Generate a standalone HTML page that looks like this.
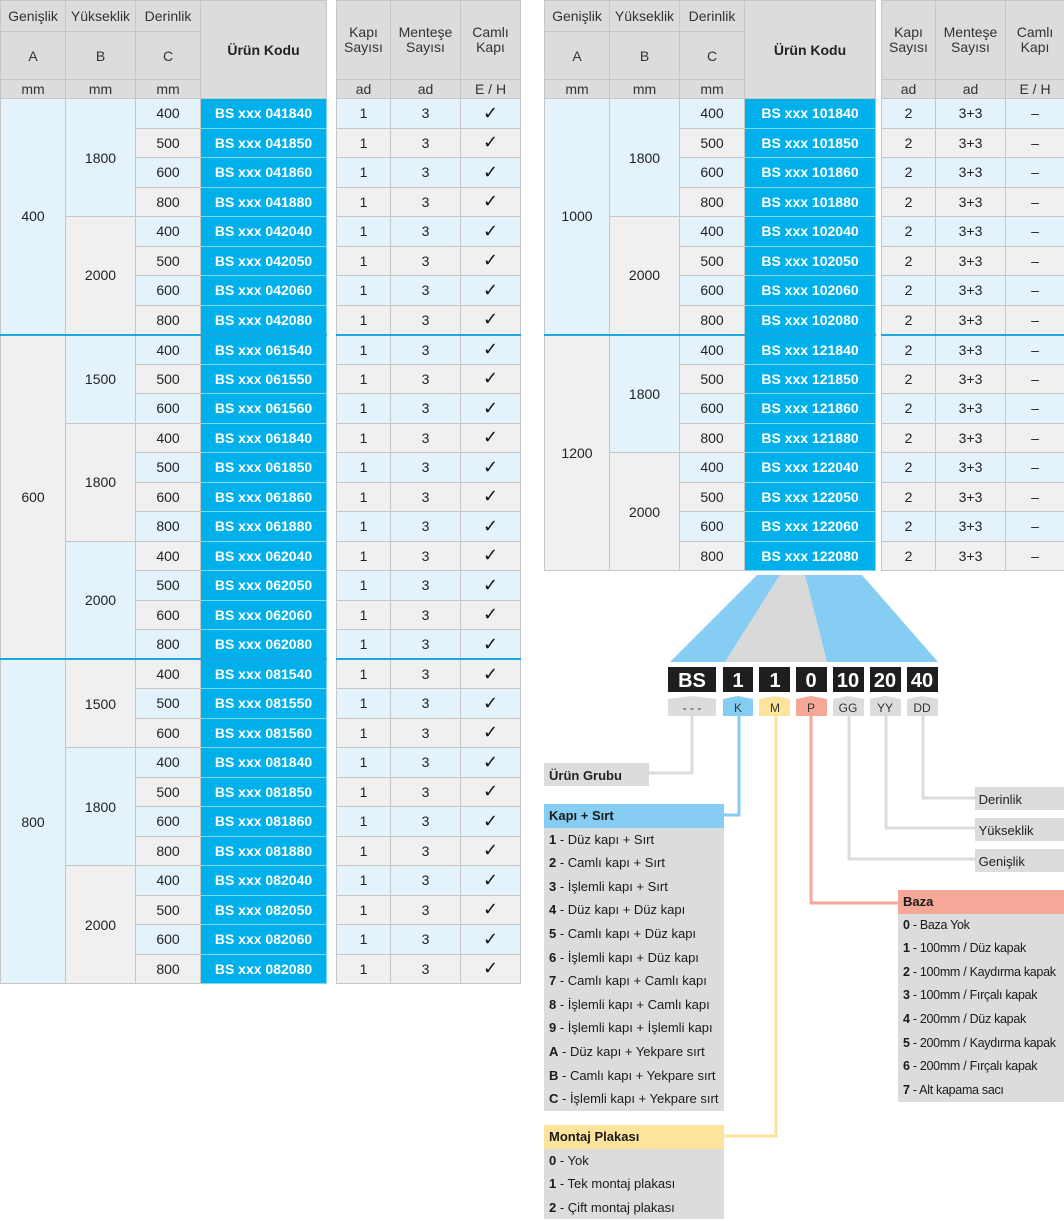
<!DOCTYPE html>
<html><head><meta charset="utf-8">
<style>
body{margin:0;width:1064px;height:1221px;background:#fff;position:relative;overflow:hidden;font-family:"Liberation Sans","DejaVu Sans",sans-serif;}
table{border-collapse:collapse;position:absolute;top:0;table-layout:fixed;}
td{border:1px solid #c6c6c6;padding:0;text-align:center;font-size:14px;color:#222;overflow:hidden;white-space:nowrap;}
tr.d{height:29.5px;}
td.g{border:none;background:#fff;}
td.h{background:#dcdcdc;color:#333;}
td.hb{background:#dcdcdc;color:#222;font-weight:bold;}
td.k{background:#00b0eb;color:#fff;font-weight:bold;border-color:#7fd5f4;}
td.c{font-size:18px;color:#111;}
.b{background:#e4f2fc;}
.y{background:#f0f0f0;}
tr.sep td{border-top:2px solid #1aa6e0;}
tr.sep td.g{border-top:none;}
td.hh{line-height:15px;}
#L{left:0;width:520px;}
#R{left:544px;width:520px;}
.lg{position:absolute;font-size:13px;color:#1a1a1a;}
.lg div{height:23.6px;line-height:23.6px;padding-left:5px;white-space:nowrap;}
.lg b{font-weight:bold;}
</style></head><body>

<table id="L">
<colgroup><col style="width:65px"><col style="width:70px"><col style="width:65px"><col style="width:126px"><col style="width:10px"><col style="width:54px"><col style="width:70px"><col style="width:60px"></colgroup>
<tr style="height:31px"><td class="h">Genişlik</td><td class="h">Yükseklik</td><td class="h">Derinlik</td><td class="hb" rowspan="3">Ürün Kodu</td><td class="g" rowspan="3"></td><td class="h hh" rowspan="2">Kapı<br>Sayısı</td><td class="h hh" rowspan="2">Menteşe<br>Sayısı</td><td class="h hh" rowspan="2">Camlı<br>Kapı</td></tr>
<tr style="height:48px"><td class="h">A</td><td class="h">B</td><td class="h">C</td></tr>
<tr style="height:19px;font-size:13px"><td class="h">mm</td><td class="h">mm</td><td class="h">mm</td><td class="h">ad</td><td class="h">ad</td><td class="h">E / H</td></tr>

<tr class="d b"><td class="b" rowspan="8">400</td><td class="b" rowspan="4">1800</td><td>400</td><td class="k">BS xxx 041840</td><td class="g"></td><td>1</td><td>3</td><td class="c">✓</td></tr>
<tr class="d y"><td>500</td><td class="k">BS xxx 041850</td><td class="g"></td><td>1</td><td>3</td><td class="c">✓</td></tr>
<tr class="d b"><td>600</td><td class="k">BS xxx 041860</td><td class="g"></td><td>1</td><td>3</td><td class="c">✓</td></tr>
<tr class="d y"><td>800</td><td class="k">BS xxx 041880</td><td class="g"></td><td>1</td><td>3</td><td class="c">✓</td></tr>
<tr class="d b"><td class="y" rowspan="4">2000</td><td>400</td><td class="k">BS xxx 042040</td><td class="g"></td><td>1</td><td>3</td><td class="c">✓</td></tr>
<tr class="d y"><td>500</td><td class="k">BS xxx 042050</td><td class="g"></td><td>1</td><td>3</td><td class="c">✓</td></tr>
<tr class="d b"><td>600</td><td class="k">BS xxx 042060</td><td class="g"></td><td>1</td><td>3</td><td class="c">✓</td></tr>
<tr class="d y"><td>800</td><td class="k">BS xxx 042080</td><td class="g"></td><td>1</td><td>3</td><td class="c">✓</td></tr>

<tr class="d b sep"><td class="y" rowspan="11">600</td><td class="b" rowspan="3">1500</td><td>400</td><td class="k">BS xxx 061540</td><td class="g"></td><td>1</td><td>3</td><td class="c">✓</td></tr>
<tr class="d y"><td>500</td><td class="k">BS xxx 061550</td><td class="g"></td><td>1</td><td>3</td><td class="c">✓</td></tr>
<tr class="d b"><td>600</td><td class="k">BS xxx 061560</td><td class="g"></td><td>1</td><td>3</td><td class="c">✓</td></tr>
<tr class="d y"><td class="y" rowspan="4">1800</td><td>400</td><td class="k">BS xxx 061840</td><td class="g"></td><td>1</td><td>3</td><td class="c">✓</td></tr>
<tr class="d b"><td>500</td><td class="k">BS xxx 061850</td><td class="g"></td><td>1</td><td>3</td><td class="c">✓</td></tr>
<tr class="d y"><td>600</td><td class="k">BS xxx 061860</td><td class="g"></td><td>1</td><td>3</td><td class="c">✓</td></tr>
<tr class="d b"><td>800</td><td class="k">BS xxx 061880</td><td class="g"></td><td>1</td><td>3</td><td class="c">✓</td></tr>
<tr class="d y"><td class="b" rowspan="4">2000</td><td>400</td><td class="k">BS xxx 062040</td><td class="g"></td><td>1</td><td>3</td><td class="c">✓</td></tr>
<tr class="d b"><td>500</td><td class="k">BS xxx 062050</td><td class="g"></td><td>1</td><td>3</td><td class="c">✓</td></tr>
<tr class="d y"><td>600</td><td class="k">BS xxx 062060</td><td class="g"></td><td>1</td><td>3</td><td class="c">✓</td></tr>
<tr class="d b"><td>800</td><td class="k">BS xxx 062080</td><td class="g"></td><td>1</td><td>3</td><td class="c">✓</td></tr>

<tr class="d y sep"><td class="b" rowspan="11">800</td><td class="y" rowspan="3">1500</td><td>400</td><td class="k">BS xxx 081540</td><td class="g"></td><td>1</td><td>3</td><td class="c">✓</td></tr>
<tr class="d b"><td>500</td><td class="k">BS xxx 081550</td><td class="g"></td><td>1</td><td>3</td><td class="c">✓</td></tr>
<tr class="d y"><td>600</td><td class="k">BS xxx 081560</td><td class="g"></td><td>1</td><td>3</td><td class="c">✓</td></tr>
<tr class="d b"><td class="b" rowspan="4">1800</td><td>400</td><td class="k">BS xxx 081840</td><td class="g"></td><td>1</td><td>3</td><td class="c">✓</td></tr>
<tr class="d y"><td>500</td><td class="k">BS xxx 081850</td><td class="g"></td><td>1</td><td>3</td><td class="c">✓</td></tr>
<tr class="d b"><td>600</td><td class="k">BS xxx 081860</td><td class="g"></td><td>1</td><td>3</td><td class="c">✓</td></tr>
<tr class="d y"><td>800</td><td class="k">BS xxx 081880</td><td class="g"></td><td>1</td><td>3</td><td class="c">✓</td></tr>
<tr class="d b"><td class="y" rowspan="4">2000</td><td>400</td><td class="k">BS xxx 082040</td><td class="g"></td><td>1</td><td>3</td><td class="c">✓</td></tr>
<tr class="d y"><td>500</td><td class="k">BS xxx 082050</td><td class="g"></td><td>1</td><td>3</td><td class="c">✓</td></tr>
<tr class="d b"><td>600</td><td class="k">BS xxx 082060</td><td class="g"></td><td>1</td><td>3</td><td class="c">✓</td></tr>
<tr class="d y"><td>800</td><td class="k">BS xxx 082080</td><td class="g"></td><td>1</td><td>3</td><td class="c">✓</td></tr>
</table>

<table id="R">
<colgroup><col style="width:65px"><col style="width:70px"><col style="width:65px"><col style="width:131px"><col style="width:6px"><col style="width:54px"><col style="width:70px"><col style="width:59px"></colgroup>
<tr style="height:31px"><td class="h">Genişlik</td><td class="h">Yükseklik</td><td class="h">Derinlik</td><td class="hb" rowspan="3">Ürün Kodu</td><td class="g" rowspan="3"></td><td class="h hh" rowspan="2">Kapı<br>Sayısı</td><td class="h hh" rowspan="2">Menteşe<br>Sayısı</td><td class="h hh" rowspan="2">Camlı<br>Kapı</td></tr>
<tr style="height:48px"><td class="h">A</td><td class="h">B</td><td class="h">C</td></tr>
<tr style="height:19px;font-size:13px"><td class="h">mm</td><td class="h">mm</td><td class="h">mm</td><td class="h">ad</td><td class="h">ad</td><td class="h">E / H</td></tr>

<tr class="d b"><td class="b" rowspan="8">1000</td><td class="b" rowspan="4">1800</td><td>400</td><td class="k">BS xxx 101840</td><td class="g"></td><td>2</td><td>3+3</td><td>–</td></tr>
<tr class="d y"><td>500</td><td class="k">BS xxx 101850</td><td class="g"></td><td>2</td><td>3+3</td><td>–</td></tr>
<tr class="d b"><td>600</td><td class="k">BS xxx 101860</td><td class="g"></td><td>2</td><td>3+3</td><td>–</td></tr>
<tr class="d y"><td>800</td><td class="k">BS xxx 101880</td><td class="g"></td><td>2</td><td>3+3</td><td>–</td></tr>
<tr class="d b"><td class="y" rowspan="4">2000</td><td>400</td><td class="k">BS xxx 102040</td><td class="g"></td><td>2</td><td>3+3</td><td>–</td></tr>
<tr class="d y"><td>500</td><td class="k">BS xxx 102050</td><td class="g"></td><td>2</td><td>3+3</td><td>–</td></tr>
<tr class="d b"><td>600</td><td class="k">BS xxx 102060</td><td class="g"></td><td>2</td><td>3+3</td><td>–</td></tr>
<tr class="d y"><td>800</td><td class="k">BS xxx 102080</td><td class="g"></td><td>2</td><td>3+3</td><td>–</td></tr>
<tr class="d b sep"><td class="y" rowspan="8">1200</td><td class="b" rowspan="4">1800</td><td>400</td><td class="k">BS xxx 121840</td><td class="g"></td><td>2</td><td>3+3</td><td>–</td></tr>
<tr class="d y"><td>500</td><td class="k">BS xxx 121850</td><td class="g"></td><td>2</td><td>3+3</td><td>–</td></tr>
<tr class="d b"><td>600</td><td class="k">BS xxx 121860</td><td class="g"></td><td>2</td><td>3+3</td><td>–</td></tr>
<tr class="d y"><td>800</td><td class="k">BS xxx 121880</td><td class="g"></td><td>2</td><td>3+3</td><td>–</td></tr>
<tr class="d b"><td class="y" rowspan="4">2000</td><td>400</td><td class="k">BS xxx 122040</td><td class="g"></td><td>2</td><td>3+3</td><td>–</td></tr>
<tr class="d y"><td>500</td><td class="k">BS xxx 122050</td><td class="g"></td><td>2</td><td>3+3</td><td>–</td></tr>
<tr class="d b"><td>600</td><td class="k">BS xxx 122060</td><td class="g"></td><td>2</td><td>3+3</td><td>–</td></tr>
<tr class="d y"><td>800</td><td class="k">BS xxx 122080</td><td class="g"></td><td>2</td><td>3+3</td><td>–</td></tr>
</table>

<svg width="1064" height="1221" style="position:absolute;left:0;top:0" font-family="Liberation Sans, sans-serif">
<polygon points="757,575 780,575 725,662 670,662" fill="#85cdf2"/>
<polygon points="780,575 805,575 827,662 725,662" fill="#d9d9d9"/>
<polygon points="805,575 862,575 938,662 827,662" fill="#85cdf2"/>
<g fill="#1e1e1e">
<rect x="668" y="667" width="48" height="25"/><rect x="723" y="667" width="30" height="25"/><rect x="759" y="667" width="31" height="25"/><rect x="796" y="667" width="31" height="25"/><rect x="833" y="667" width="31" height="25"/><rect x="870" y="667" width="31" height="25"/><rect x="907" y="667" width="31" height="25"/>
</g>
<g fill="#fff" font-size="20" font-weight="bold" text-anchor="middle">
<text x="692" y="687">BS</text><text x="738" y="687">1</text><text x="775" y="687">1</text><text x="811" y="687">0</text><text x="848" y="687">10</text><text x="885" y="687">20</text><text x="922" y="687">40</text>
</g>
<g fill="none" stroke-width="3">
<polyline points="692,716 692,773 648,773" stroke="#dcdcdc"/>
<polyline points="739,716 739,815 724,815" stroke="#85cdf2"/>
<polyline points="776,716 776,1136 724,1136" stroke="#fde49a"/>
<polyline points="811,716 811,903 898,903" stroke="#f5a898"/>
<polyline points="849,716 849,859 975,859" stroke="#dcdcdc"/>
<polyline points="886,716 886,828 975,828" stroke="#dcdcdc"/>
<polyline points="923,716 923,798 975,798" stroke="#dcdcdc"/>
</g>
<g>
<path d="M668,699 L692,696 L716,699 V716 H668Z" fill="#dcdcdc"/>
<path d="M723,699 L738,696 L753,699 V716 H723Z" fill="#85cdf2"/>
<path d="M759,699 L775,696 L790,699 V716 H759Z" fill="#fde49a"/>
<path d="M796,699 L811,696 L827,699 V716 H796Z" fill="#f5a898"/>
<path d="M833,699 L848,696 L864,699 V716 H833Z" fill="#dcdcdc"/>
<path d="M870,699 L885,696 L901,699 V716 H870Z" fill="#dcdcdc"/>
<path d="M907,699 L922,696 L938,699 V716 H907Z" fill="#dcdcdc"/>
</g>
<g fill="#333" font-size="12" text-anchor="middle">
<text x="692" y="712">- - -</text><text x="738" y="712">K</text><text x="775" y="712">M</text><text x="811" y="712">P</text><text x="848" y="712">GG</text><text x="885" y="712">YY</text><text x="922" y="712">DD</text>
</g>
<rect x="544" y="763" width="105" height="23" fill="#dcdcdc"/>
<text x="549" y="780" font-size="13" font-weight="bold" fill="#222">Ürün Grubu</text>
<rect x="975" y="787" width="89" height="23" fill="#dcdcdc"/>
<text x="975" y="804" font-size="13" fill="#222">&#160;Derinlik</text>
<rect x="975" y="818" width="89" height="23" fill="#dcdcdc"/>
<text x="975" y="835" font-size="13" fill="#222">&#160;Yükseklik</text>
<rect x="975" y="849" width="89" height="23" fill="#dcdcdc"/>
<text x="975" y="866" font-size="13" fill="#222">&#160;Genişlik</text>
</svg>

<div class="lg" style="left:544px;top:804px;width:180px;background:#dcdcdc">
<div style="background:#85cdf2;font-weight:bold">Kapı + Sırt</div>
<div><b>1</b> - Düz kapı + Sırt</div>
<div><b>2</b> - Camlı kapı + Sırt</div>
<div><b>3</b> - İşlemli kapı + Sırt</div>
<div><b>4</b> - Düz kapı + Düz kapı</div>
<div><b>5</b> - Camlı kapı + Düz kapı</div>
<div><b>6</b> - İşlemli kapı + Düz kapı</div>
<div><b>7</b> - Camlı kapı + Camlı kapı</div>
<div><b>8</b> - İşlemli kapı + Camlı kapı</div>
<div><b>9</b> - İşlemli kapı + İşlemli kapı</div>
<div><b>A</b> - Düz kapı + Yekpare sırt</div>
<div><b>B</b> - Camlı kapı + Yekpare sırt</div>
<div><b>C</b> - İşlemli kapı + Yekpare sırt</div>
</div>

<div class="lg" style="left:544px;top:1125px;width:180px;background:#dcdcdc">
<div style="background:#fde49a;font-weight:bold">Montaj Plakası</div>
<div><b>0</b> - Yok</div>
<div><b>1</b> - Tek montaj plakası</div>
<div><b>2</b> - Çift montaj plakası</div>
</div>

<div class="lg" style="left:898px;top:890px;width:166px;background:#dcdcdc;font-size:12.5px;letter-spacing:-0.3px">
<div style="background:#f5a898;font-weight:bold;font-size:13px;letter-spacing:0">Baza</div>
<div><b>0</b> - Baza Yok</div>
<div><b>1</b> - 100mm / Düz kapak</div>
<div><b>2</b> - 100mm / Kaydırma kapak</div>
<div><b>3</b> - 100mm / Fırçalı kapak</div>
<div><b>4</b> - 200mm / Düz kapak</div>
<div><b>5</b> - 200mm / Kaydırma kapak</div>
<div><b>6</b> - 200mm / Fırçalı kapak</div>
<div><b>7</b> - Alt kapama sacı</div>
</div>
</body></html>
